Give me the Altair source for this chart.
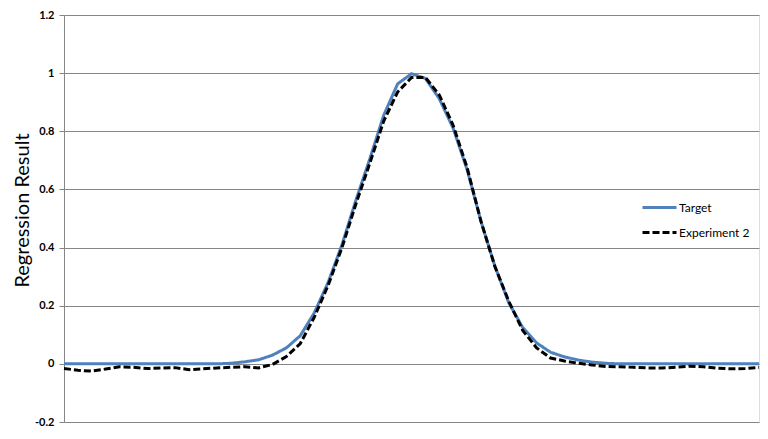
import altair as alt
import pandas as pd

# sample positions along the (unlabelled) horizontal axis
x_pos = list(range(0, 101, 2))

target = [
    0, 0, 0, 0, 0, 0, 0, 0, 0, 0, 0, 0,
    0.002, 0.007, 0.014, 0.03, 0.055, 0.097, 0.175, 0.28, 0.41, 0.563,
    0.705, 0.855, 0.963, 0.998, 0.982, 0.912, 0.81, 0.668, 0.49, 0.336,
    0.21, 0.125, 0.072, 0.04, 0.024, 0.013, 0.006, 0.002,
    0, 0, 0, 0, 0, 0, 0, 0, 0, 0, 0,
]

experiment2 = [
    -0.016, -0.022, -0.025, -0.018, -0.01, -0.012, -0.016, -0.014, -0.013,
    -0.02, -0.017, -0.014, -0.012, -0.01, -0.014, -0.002, 0.025, 0.07, 0.16,
    0.27, 0.40, 0.55, 0.69, 0.835, 0.935, 0.985, 0.985, 0.925, 0.82, 0.675,
    0.49, 0.335, 0.215, 0.115, 0.055, 0.02, 0.01, 0.002, -0.004, -0.009,
    -0.01, -0.012, -0.014, -0.014, -0.012, -0.008, -0.01, -0.015, -0.017,
    -0.016, -0.012,
]

series_names = ["Target", "Experiment 2"]
y_ticks = [-0.2, 0, 0.2, 0.4, 0.6, 0.8, 1, 1.2]

rows = []
for name, vals in zip(series_names, [target, experiment2]):
    for xv, yv in zip(x_pos, vals):
        rows.append({"x": xv, "value": yv, "series": name})
df = pd.DataFrame(rows)

FONT = "Lato"

legend = alt.Legend(
    title=None,
    orient="none",
    legendX=577,
    legendY=174,
    symbolType="stroke",
    symbolSize=1156,
    symbolStrokeWidth=3,
    labelFont=FONT,
    labelFontSize=12,
    labelColor="black",
    rowPadding=-8,
    labelOffset=1,
)

base = alt.Chart(df).encode(
    x=alt.X("x:Q", scale=alt.Scale(domain=[0, 100], nice=False, zero=False), axis=None),
    y=alt.Y(
        "value:Q",
        scale=alt.Scale(domain=[-0.2, 1.2], nice=False),
        axis=alt.Axis(
            values=y_ticks,
            labelExpr="'' + datum.value",
            title="Regression Result",
            titleFont=FONT,
            titleFontSize=20,
            titleFontWeight="normal",
            titleColor="black",
            titleAngle=270,
            titleAlign="center",
            titleBaseline="middle",
            titleX=-42,
            titleY=195,
            labelFont=FONT,
            labelFontSize=11,
            labelFontWeight="bold",
            labelColor="black",
            labelPadding=5,
            tickSize=5,
            gridColor="#868686",
            domainColor="#868686",
            tickColor="#868686",
        ),
    ),
    color=alt.Color(
        "series:N",
        scale=alt.Scale(domain=series_names, range=["#4F81BD", "black"]),
        legend=legend,
    ),
    strokeDash=alt.StrokeDash(
        "series:N",
        scale=alt.Scale(domain=series_names, range=[[1, 0], [7, 3]]),
        legend=legend,
    ),
)

t_layer = base.mark_line(strokeWidth=3).transform_filter("datum.series == 'Target'")
e_layer = base.mark_line(strokeWidth=3).transform_filter("datum.series == 'Experiment 2'")

chart = (
    alt.layer(t_layer, e_layer)
    .properties(
        width=695,
        height=407,
        autosize=alt.AutoSizeParams(type="none"),
        padding={"left": 56, "top": 7, "right": 1, "bottom": 10},
    )
    .configure_view(stroke="black", strokeWidth=1)
    .configure(background="white")
)

chart.save("out.html", embed_options={"renderer": "svg", "actions": False})
